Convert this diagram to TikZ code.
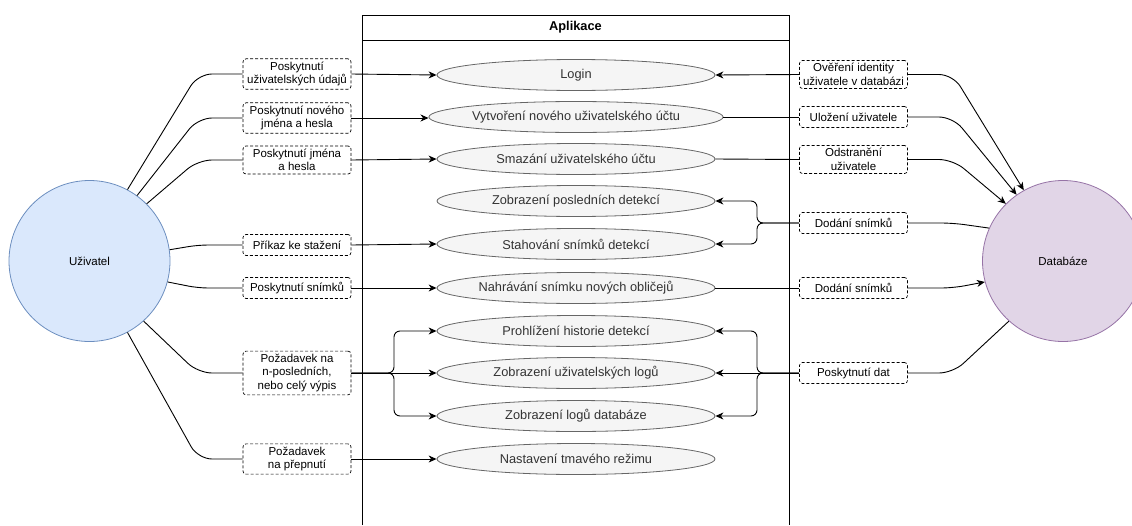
\documentclass[tikz,border=0pt]{standalone}
\usepackage{fontspec}
\setmainfont{Liberation Sans}
\usetikzlibrary{shapes.geometric,arrows.meta}

\definecolor{ucline}{HTML}{666666}
\definecolor{ucfill}{HTML}{F5F5F5}
\definecolor{uctext}{HTML}{333333}
\definecolor{userfill}{HTML}{DAE8FC}
\definecolor{userline}{HTML}{6C8EBF}
\definecolor{dbfill}{HTML}{E1D5E7}
\definecolor{dbline}{HTML}{9673A6}

\begin{document}
\begin{tikzpicture}[x=1pt,y=-1pt,
  font=\fontsize{11.5}{13.5}\selectfont,
  usecase/.style={ellipse, draw=ucline, fill=ucfill, text=uctext, line width=0.8pt,
    minimum width=278pt, minimum height=31pt, inner sep=0pt,
    font=\fontsize{12.8}{14}\selectfont},
  tag/.style={rectangle, rounded corners=3pt, draw, dash pattern=on 3pt off 2pt,
    line width=0.7pt, minimum width=108pt, minimum height=21pt,
    inner xsep=1pt, inner ysep=3pt, align=center, fill=white},
  ln/.style={draw, line width=0.9pt},
  arr/.style={ln, -{Stealth[length=8pt,width=7pt,inset=2.5pt]}},
  actor/.style={circle, minimum size=161pt, inner sep=0pt, line width=0.8pt}
]
\useasboundingbox (0,0) rectangle (1132,525);

% application frame, open at the bottom
\draw[line width=0.9pt] (362,525) -- (362,15) -- (789,15) -- (789,525);
\draw[line width=0.9pt] (362,40) -- (789,40);
\node[font=\fontsize{12.8}{14}\selectfont\bfseries] (title) at (575.5,27.5) {Aplikace};

% actors
\node[actor, draw=userline, fill=userfill] (u) at (89.5,261) {Uživatel};
\node[actor, draw=dbline, fill=dbfill] (d) at (1063,261) {Databáze};

% use cases
\node[usecase] (e1) at (576,75)  {Login};
\node[usecase] (e2) at (576,117) {Vytvoření nového uživatelského účtu};
\node[usecase] (e3) at (576,159) {Smazání uživatelského účtu};
\node[usecase] (e4) at (576,201) {Zobrazení posledních detekcí};
\node[usecase] (e5) at (576,244) {Stahování snímků detekcí};
\node[usecase] (e6) at (576,288) {Nahrávání snímku nových obličejů};
\node[usecase] (e7) at (576,331) {Prohlížení historie detekcí};
\node[usecase] (e8) at (576,373) {Zobrazení uživatelských logů};
\node[usecase] (e9) at (576,416) {Zobrazení logů databáze};
\node[usecase] (e10) at (576,459) {Nastavení tmavého režimu};

% labels on the user side
\node[tag] (l1) at (297,74)  {Poskytnutí\\uživatelských údajů};
\node[tag] (l2) at (297,118) {Poskytnutí nového\\jména a hesla};
\node[tag] (l3) at (297,160) {Poskytnutí jména\\a hesla};
\node[tag] (l4) at (297,245) {Příkaz ke stažení};
\node[tag] (l5) at (297,288) {Poskytnutí snímků};
\node[tag] (l6) at (297,373) {Požadavek na\\n-posledních,\\nebo celý výpis};
\node[tag] (l7) at (297,459) {Požadavek\\na přepnutí};

% labels on the database side
\node[tag] (r1) at (853.5,74.5) {Ověření identity\\uživatele v databázi};
\node[tag] (r2) at (853.5,117)  {Uložení uživatele};
\node[tag] (r3) at (853.5,159.5){Odstranění\\uživatele};
\node[tag] (r4) at (853.5,223)  {Dodání snímků};
\node[tag] (r5) at (853.5,288)  {Dodání snímků};
\node[tag] (r6) at (853.5,373)  {Poskytnutí dat};

% bend and fork columns
\coordinate (bl) at (198,0);
\coordinate (br) at (953,0);
\coordinate (fl) at (394,0);
\coordinate (fr) at (757,0);

% user to labels
\draw[ln, rounded corners=14] (u.62)   -- (bl |- l1.west) -- (l1.west);
\draw[ln, rounded corners=14] (u.54)   -- (bl |- l2.west) -- (l2.west);
\draw[ln, rounded corners=14] (u.45)   -- (bl |- l3.west) -- (l3.west);
\draw[ln, rounded corners=10] (u.8.5)  -- (bl |- l4.west) -- (l4.west);
\draw[ln, rounded corners=10] (u.-15)  -- (bl |- l5.west) -- (l5.west);
\draw[ln, rounded corners=14] (u.-48.7)-- (bl |- l6.west) -- (l6.west);
\draw[ln, rounded corners=14] (u.-62.5)-- (bl |- l7.west) -- (l7.west);

% labels to use cases (user side)
\draw[arr] (l1.east) -- (e1.west);
\draw[arr] (l2.east) -- (l2.east -| e2.west);
\draw[arr] (l3.east) -- (e3.west);
\draw[arr] (l4.east) -- (e5.west);
\draw[arr] (l5.east) -- (e6.west);
\draw[arr, rounded corners=6] (l6.east) -- (fl |- l6.east) |- (e7.west);
\draw[arr] (l6.east) -- (e8.west);
\draw[arr, rounded corners=6] (l6.east) -- (fl |- l6.east) |- (e9.west);
\draw[arr] (l7.east) -- (e10.west);

% use cases to labels (database side)
\draw[arr] (r1.west) -- (e1.east);
\draw[ln] (e2.east) -- (r2.west);
\draw[ln] (e3.east) -- (r3.west);
\draw[arr, rounded corners=6] (r4.west) -- (fr |- r4.west) |- (e4.east);
\draw[arr, rounded corners=6] (r4.west) -- (fr |- r4.west) |- (e5.east);
\draw[ln] (e6.east) -- (r5.west);
\draw[arr, rounded corners=6] (r6.west) -- (fr |- r6.west) |- (e7.east);
\draw[arr] (r6.west) -- (e8.east);
\draw[arr, rounded corners=6] (r6.west) -- (fr |- r6.west) |- (e9.east);

% labels to database
\draw[arr, rounded corners=14] (r1.east) -- (br |- r1.east) -- (d.119.3);
\draw[arr, rounded corners=14] (r2.east) -- (br |- r2.east) -- (d.125);
\draw[arr, rounded corners=14] (r3.east) -- (br |- r3.east) -- (d.135.5);
\draw[ln, rounded corners=12]  (r4.east) -- (br |- r4.east) -- (d.156.5);
\draw[arr, rounded corners=12] (r5.east) -- (br |- r5.east) -- (d.195);
\draw[ln, rounded corners=14]  (d.228)   -- (br |- r6.east) -- (r6.east);
\end{tikzpicture}
\end{document}
